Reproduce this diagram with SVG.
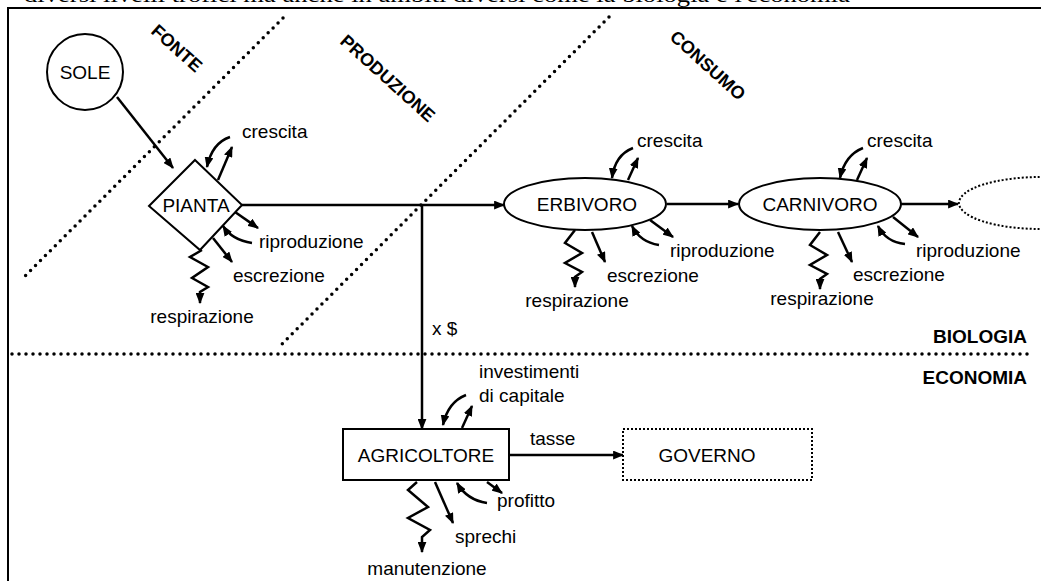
<svg xmlns="http://www.w3.org/2000/svg" width="1041" height="581" viewBox="0 0 1041 581">
<defs>
<style>
.t{font-family:"Liberation Sans",Arial,sans-serif;font-size:19px;fill:#000}
.m{text-anchor:middle}
.b{font-family:"Liberation Sans",Arial,sans-serif;font-weight:bold;fill:#000}
.n{fill:#fff;stroke:#000;stroke-width:2}
.c{fill:none;stroke:#000;stroke-width:2.5;stroke-linejoin:miter}
.a{marker-end:url(#ah)}
.dot{fill:none;stroke:#000;stroke-width:3.5;stroke-linecap:round;stroke-dasharray:0 7}
.fd{fill:#fff;stroke:#000;stroke-width:2;stroke-dasharray:2 2}
</style>
<marker id="ah" viewBox="0 0 10 8" refX="9" refY="4" markerWidth="11" markerHeight="9" markerUnits="userSpaceOnUse" orient="auto"><path d="M0,0 L10,4 L0,8 z" fill="#000"/></marker>
</defs>
<rect width="1041" height="581" fill="#fff"/>
<text x="24" y="1.5" font-family="Liberation Serif,serif" font-size="20" textLength="826" lengthAdjust="spacingAndGlyphs">diversi livelli trofici ma anche in ambiti diversi come la biologia e l'economia</text>
<path d="M8,581 V8 H1041" fill="none" stroke="#000" stroke-width="2"/>
<g id="separators">
<line class="dot" x1="283" y1="18" x2="24" y2="277"/>
<line class="dot" x1="609" y1="17" x2="278" y2="348"/>
<line class="dot" x1="12" y1="354" x2="1032" y2="354"/>
<text class="b" font-size="18" text-anchor="middle" transform="translate(177,48) rotate(42)" y="6.5">FONTE</text>
<text class="b" font-size="18" text-anchor="middle" transform="translate(388,78) rotate(42)" y="6.5">PRODUZIONE</text>
<text class="b" font-size="18" text-anchor="middle" transform="translate(708,65) rotate(42)" y="6.5">CONSUMO</text>
<text class="b" font-size="19" text-anchor="end" x="1027" y="343">BIOLOGIA</text>
<text class="b" font-size="19" text-anchor="end" x="1027" y="384">ECONOMIA</text>
</g>
<g id="connectors">
<path class="c a" d="M117,97 L173,168"/>
<path class="c" d="M242,205 L422,205"/>
<path class="c a" d="M422,205 L504,205"/>
<path class="c a" d="M422,205 L422,429"/>
<text class="t" x="432" y="335">x $</text>
<path class="c a" d="M667,204 L738,204"/>
<path class="c a" d="M900,204 L958,204"/>
<path class="c a" d="M509,455 L623,455"/>
<text class="t" x="530" y="445">tasse</text>
</g>
<g id="flows-pianta">
<path class="c a" d="M230,137 Q212,143 207,167"/>
<path class="c a" d="M218,180 L232,147"/>
<path class="c a" d="M235,212 L258,228"/>
<path class="c a" d="M252,243 Q232,240 223,226"/>
<path class="c a" d="M213,238 L232,262"/>
<path class="c a" d="M202,250 L190,257 L208,267 L192,278 L208,287 L200,292 L200,303"/>
<text class="t" x="242" y="138">crescita</text>
<text class="t" x="259" y="248">riproduzione</text>
<text class="t" x="233" y="282">escrezione</text>
<text class="t m" x="202" y="323">respirazione</text>
</g>
<g id="flows-erbivoro">
<path class="c a" d="M633,148 Q615,155 612,178"/>
<path class="c a" d="M628,180 L638,158"/>
<path class="c a" d="M650,220 L673,237"/>
<path class="c a" d="M659,245 Q640,242 632,226"/>
<path class="c a" d="M592,232 L605,262"/>
<path class="c a" d="M575,230 L565,243 L582,253 L565,263 L582,272 L575,277 L575,287"/>
<text class="t" x="637" y="147">crescita</text>
<text class="t" x="670" y="257">riproduzione</text>
<text class="t" x="607" y="282">escrezione</text>
<text class="t m" x="577" y="307">respirazione</text>
</g>
<g id="flows-carnivoro">
<path class="c a" d="M863,148 Q845,155 840,178"/>
<path class="c a" d="M857,180 L867,158"/>
<path class="c a" d="M893,217 L918,237"/>
<path class="c a" d="M905,244 Q886,242 878,226"/>
<path class="c a" d="M838,232 L852,262"/>
<path class="c a" d="M820,232 L810,245 L827,255 L810,265 L827,274 L820,279 L820,289"/>
<text class="t" x="867" y="147">crescita</text>
<text class="t" x="916" y="257">riproduzione</text>
<text class="t" x="853" y="281">escrezione</text>
<text class="t m" x="822" y="305">respirazione</text>
</g>
<g id="flows-agricoltore">
<path class="c a" d="M466,395 Q448,402 443,425"/>
<path class="c a" d="M462,428 L472,406"/>
<path class="c a" d="M487,482 L502,493"/>
<path class="c a" d="M487,503 Q467,500 457,483"/>
<path class="c a" d="M435,482 L453,523"/>
<path class="c a" d="M417,482 L408,490 L428,507 L408,518 L430,530 L422,537 L422,552"/>
<text class="t" x="479" y="378">investimenti</text>
<text class="t" x="479" y="402">di capitale</text>
<text class="t" x="497" y="507">profitto</text>
<text class="t" x="455" y="543">sprechi</text>
<text class="t m" x="427" y="575">manutenzione</text>
</g>
<g id="sole">
<circle class="n" cx="85" cy="72" r="38"/>
<text class="t m" x="85" y="79">SOLE</text>
</g>
<g id="pianta">
<polygon class="n" points="195,160 242,205 200,250 149,206"/>
<text class="t m" x="196" y="212">PIANTA</text>
</g>
<g id="erbivoro">
<ellipse class="n" cx="585" cy="204" rx="81" ry="26"/>
<text class="t m" x="587" y="211">ERBIVORO</text>
</g>
<g id="carnivoro">
<ellipse class="n" cx="820" cy="204" rx="81" ry="26"/>
<text class="t m" x="820" y="211">CARNIVORO</text>
</g>
<g id="successivo">
<ellipse class="fd" cx="1041" cy="203" rx="82" ry="26"/>
</g>
<g id="agricoltore">
<rect class="n" x="343" y="429" width="166" height="51"/>
<text class="t m" x="426" y="462">AGRICOLTORE</text>
</g>
<g id="governo">
<rect class="fd" x="623" y="429" width="189" height="51"/>
<text class="t m" x="707" y="462">GOVERNO</text>
</g>
</svg>
